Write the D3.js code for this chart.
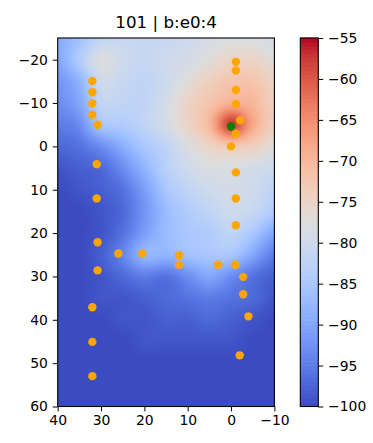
<!DOCTYPE html>
<html>
<head>
<meta charset="utf-8">
<script src="https://cdn.jsdelivr.net/npm/d3@7"></script>
<style>
body { margin: 0; background: #fff; }
text { font-family: "DejaVu Sans", sans-serif; fill: #000; }
</style>
</head>
<body>
<div id="view"></div>
<script>
var title = "101 | b:e0:4";

// field, on a 5-unit grid
var gridX = [40, 35, 30, 25, 20, 15, 10, 5, 0, -5, -10];
var gridY = [-25, -20, -15, -10, -5, 0, 5, 10, 15, 20, 25, 30, 35, 40, 45, 50, 55, 60];
var gridValues = [
    [-89, -86, -82, -81, -81, -81, -80, -79, -78, -78, -79],
    [-90, -84, -78, -80, -81, -80, -79, -77, -75, -75, -77],
    [-92, -88, -80, -81, -82, -80, -77, -74, -72, -72, -75],
    [-93, -90, -82, -82, -82, -79, -75, -72, -69, -70, -74],
    [-95, -93, -85, -84, -82, -79, -75, -70, -58, -68, -74],
    [-97, -96, -93, -89, -85, -82, -78, -75, -73, -74, -77],
    [-99, -98, -97, -93, -88, -83, -80, -78, -78, -79, -80],
    [-100, -99, -98, -96, -91, -85, -82, -80, -79, -80, -82],
    [-100, -100, -99, -97, -92, -87, -84, -82, -80, -81, -84],
    [-100, -100, -99, -96, -91, -87, -85, -84, -82, -85, -90],
    [-100, -100, -98, -94, -88, -88, -86, -85, -85, -90, -95],
    [-100, -100, -99, -97, -95, -96, -93, -90, -93, -96, -98],
    [-100, -100, -99, -99, -98, -97, -96, -95, -96, -97, -99],
    [-100, -100, -100, -99, -99, -98, -98, -97, -98, -99, -100],
    [-100, -100, -100, -100, -99, -99, -99, -99, -99, -100, -100],
    [-100, -100, -100, -100, -100, -100, -100, -100, -100, -100, -100],
    [-100, -100, -100, -100, -100, -100, -100, -100, -100, -100, -100],
    [-100, -100, -100, -100, -100, -100, -100, -100, -100, -100, -100],
];

var orangeX = [32, 32, 32, 32, 30.8, 31, 31, 30.8, 30.8, 32, 32, 32,
               26, 20.5, 12, 12, 3, -1, -2.8, -2.8, -4, -2,
               -1.1, -1.1, -1.1, -1.1, -2.1, -1.1, 0, -1.1, -1.1, -1.1];
var orangeY = [-15.1, -12.5, -9.9, -7.3, -5, 4.1, 12, 22.1, 28.6, 37.1, 45.1, 53,
               24.7, 24.7, 25.1, 27.3, 27.3, 27.3, 30.1, 34.1, 39.2, 48.2,
               -19.5, -17.5, -13, -9.8, -6, -2.9, 0, 6, 12, 18.2];
var greenX = [0];
var greenY = [-4.6];

var xTicks = [40, 30, 20, 10, 0, -10];
var yTicks = [-20, -10, 0, 10, 20, 30, 40, 50, 60];
var cbTicks = [-55, -60, -65, -70, -75, -80, -85, -90, -95, -100];
var cbDomain = [-100, -55];

var coolwarm = ["#3b4cc0", "#445acc", "#4d68d7", "#5775e1", "#6282ea", "#6c8ef1", "#779af7", "#82a5fb",
                "#8db0fe", "#98b9ff", "#a3c2ff", "#aec9fd", "#b8d0f9", "#c2d5f4", "#ccd9ee", "#d5dbe6",
                "#dddddd", "#e5d8d1", "#ecd3c5", "#f1ccb9", "#f5c4ad", "#f7bba0", "#f7b194", "#f7a687",
                "#f49a7b", "#f18d6f", "#ec7f63", "#e57058", "#de604d", "#d55042", "#cb3e38", "#c0282f",
                "#b40426"];

var W = 373, H = 443;
var plot = {left: 57.7, top: 38, width: 216.7, height: 368.5};
var cb = {left: 300.3, top: 38, width: 18, height: 368.5};

var svg = d3.select("#view").append("svg")
    .attr("width", W)
    .attr("height", H);

var x = d3.scaleLinear().domain([40, -10]).range([plot.left, plot.left + plot.width]);
var y = d3.scaleLinear().domain([-25, 60]).range([plot.top, plot.top + plot.height]);
var color = d3.scaleLinear()
    .domain(coolwarm.map((c, i) => cbDomain[0] + (cbDomain[1] - cbDomain[0]) * i / (coolwarm.length - 1)))
    .range(coolwarm)
    .clamp(true);

// grid index scales
var gi = d3.scaleLinear().domain([gridX[0], gridX[gridX.length - 1]]).range([0, gridX.length - 1]);
var gj = d3.scaleLinear().domain([gridY[0], gridY[gridY.length - 1]]).range([0, gridY.length - 1]);

function cubic(p0, p1, p2, p3, t) {
    return p1 + 0.5 * t * (p2 - p0 + t * (2 * p0 - 5 * p1 + 4 * p2 - p3 + t * (3 * (p1 - p2) + p3 - p0)));
}

function sample(fi, fj) {
    var nx = gridX.length, ny = gridY.length;
    var i = Math.min(Math.floor(fi), nx - 2), j = Math.min(Math.floor(fj), ny - 2);
    var tx = fi - i, ty = fj - j;
    var rows = [];
    for (var k = -1; k <= 2; k++) {
        var r = gridValues[Math.max(0, Math.min(ny - 1, j + k))];
        var c = n => r[Math.max(0, Math.min(nx - 1, i + n))];
        rows.push(cubic(c(-1), c(0), c(1), c(2), tx));
    }
    return cubic(rows[0], rows[1], rows[2], rows[3], ty);
}

// heat field
var cw = Math.round(plot.width), ch = Math.round(plot.height);
var canvas = document.createElement("canvas");
canvas.width = cw;
canvas.height = ch;
var ctx = canvas.getContext("2d");
var img = ctx.createImageData(cw, ch);
for (var py = 0; py < ch; py++) {
    for (var px = 0; px < cw; px++) {
        var dx = x.invert(plot.left + (px + 0.5) * plot.width / cw);
        var dy = y.invert(plot.top + (py + 0.5) * plot.height / ch);
        var v = sample(gi(dx), gj(dy));
        var c = d3.rgb(color(v));
        var o = (py * cw + px) * 4;
        img.data[o] = c.r;
        img.data[o + 1] = c.g;
        img.data[o + 2] = c.b;
        img.data[o + 3] = 255;
    }
}
ctx.putImageData(img, 0, 0);

svg.append("image")
    .attr("x", plot.left)
    .attr("y", plot.top)
    .attr("width", plot.width)
    .attr("height", plot.height)
    .attr("preserveAspectRatio", "none")
    .attr("href", canvas.toDataURL());

// points
svg.append("g").selectAll("circle")
    .data(orangeX.map((d, i) => ({x: d, y: orangeY[i]})))
    .enter().append("circle")
    .attr("cx", d => x(d.x))
    .attr("cy", d => y(d.y))
    .attr("r", 4.2)
    .attr("fill", "#ffa500");

svg.append("g").selectAll("circle")
    .data(greenX.map((d, i) => ({x: d, y: greenY[i]})))
    .enter().append("circle")
    .attr("cx", d => x(d.x))
    .attr("cy", d => y(d.y))
    .attr("r", 4.2)
    .attr("fill", "#008000");

// axes
var fmt = d3.format("d");
var fontSize = 13.9;

svg.append("g")
    .attr("transform", `translate(0, ${plot.top + plot.height})`)
    .call(d3.axisBottom(x).tickValues(xTicks).tickFormat(fmt).tickSize(4.9).tickPadding(4.2))
    .call(g => g.select(".domain").remove())
    .call(g => g.selectAll("text").attr("font-size", fontSize).attr("font-family", "DejaVu Sans"));

svg.append("g")
    .attr("transform", `translate(${plot.left}, 0)`)
    .call(d3.axisLeft(y).tickValues(yTicks).tickFormat(fmt).tickSize(4.9).tickPadding(4.9))
    .call(g => g.select(".domain").remove())
    .call(g => g.selectAll("text").attr("font-size", fontSize).attr("font-family", "DejaVu Sans"));

svg.append("rect")
    .attr("x", plot.left)
    .attr("y", plot.top)
    .attr("width", plot.width)
    .attr("height", plot.height)
    .attr("fill", "none")
    .attr("stroke", "#000")
    .attr("stroke-width", 1.1);

// colorbar
var cbScale = d3.scaleLinear().domain(cbDomain).range([cb.top + cb.height, cb.top]);
var bands = d3.range(cbDomain[0], cbDomain[1], 0.5);
svg.append("g").selectAll("rect")
    .data(bands)
    .enter().append("rect")
    .attr("x", cb.left)
    .attr("y", d => cbScale(d + 0.5) - 0.3)
    .attr("width", cb.width)
    .attr("height", d => cbScale(d) - cbScale(d + 0.5) + 0.6)
    .attr("fill", d => color(d + 0.25));

svg.append("g")
    .attr("transform", `translate(${cb.left + cb.width}, 0)`)
    .call(d3.axisRight(cbScale).tickValues(cbTicks).tickFormat(fmt).tickSize(4.9).tickPadding(4.9))
    .call(g => g.select(".domain").remove())
    .call(g => g.selectAll("text").attr("font-size", fontSize).attr("font-family", "DejaVu Sans"));

svg.append("rect")
    .attr("x", cb.left)
    .attr("y", cb.top)
    .attr("width", cb.width)
    .attr("height", cb.height)
    .attr("fill", "none")
    .attr("stroke", "#000")
    .attr("stroke-width", 1.1);

svg.append("text")
    .attr("x", plot.left + plot.width / 2)
    .attr("y", 28)
    .attr("text-anchor", "middle")
    .attr("font-size", 16.7)
    .text(title);
</script>
</body>
</html>
